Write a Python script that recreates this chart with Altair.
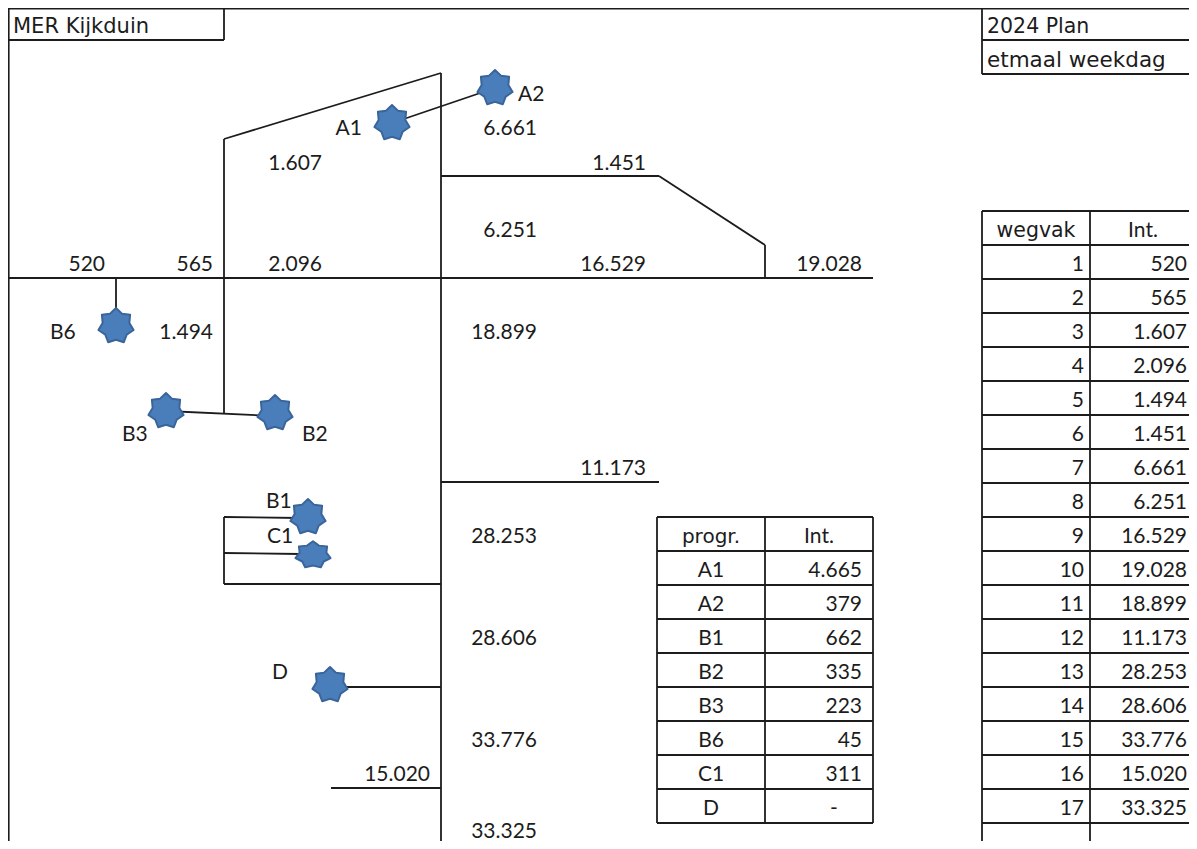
import math
import altair as alt
import pandas as pd

# Spreadsheet-diagram contents
road_ids = list(range(1, 18))
road_vals = ["520", "565", "1.607", "2.096", "1.494", "1.451", "6.661", "6.251", "16.529",
             "19.028", "18.899", "11.173", "28.253", "28.606", "33.776", "15.020", "33.325"]
prog_names = ["A1", "A2", "B1", "B2", "B3", "B6", "C1", "D"]
prog_vals = ["4.665", "379", "662", "335", "223", "45", "311"]

# Diagram labels: text, x, baseline y
right_labels = [
    ("520", 105, 271), ("565", 213, 271), ("2.096", 322, 271), ("1.607", 322, 170),
    ("6.661", 537, 135), ("1.451", 646, 170), ("6.251", 537, 237), ("16.529", 646, 271),
    ("19.028", 862, 271), ("1.494", 213, 339), ("18.899", 537, 339), ("11.173", 646, 475),
    ("28.253", 537, 543), ("28.606", 537, 645), ("33.776", 537, 747), ("15.020", 430, 781),
    ("33.325", 537, 838), ("A1", 362, 135),
]
left_labels = [
    ("A2", 518, 101), ("B6", 50, 339), ("B3", 122, 441), ("B2", 302, 441),
    ("B1", 266, 508), ("C1", 267, 543), ("D", 272, 679),
]
center_labels = [("Int.", 1143, 237), ("Int.", 819, 543), ("-", 834, 815)]
# Wider header texts: text, x, baseline y, font size
head_left = [("MER Kijkduin", 13, 33, 21), ("2024 Plan", 987, 33, 20.5), ("etmaal weekdag", 987, 67, 21.5)]
head_center = [("wegvak", 1036, 237, 20.5), ("progr.", 711, 543, 20)]

# Line segments: x1, y1, x2, y2
segments = [
    (8, 8.5, 1189, 8.5), (8.7, 8, 8.7, 841), (224, 8, 224, 40), (8, 40, 224, 40),
    (982, 8, 982, 74), (982, 40, 1189, 40), (982, 74, 1189, 74),
    (8, 278, 873, 278), (116, 278, 116, 312), (224, 139, 224, 414),
    (224, 139, 441, 73), (441, 73, 441, 841), (441, 176, 659, 176),
    (659, 176, 765, 245), (765, 245, 765, 278), (441, 482, 659, 482),
    (224, 517, 224, 584), (224, 584, 441, 584), (224, 517, 300, 518), (224, 553, 300, 554),
    (345, 687, 441, 687), (331, 788, 441, 788), (392, 123, 495, 88), (166, 411, 275, 416),
    (982, 211, 1189, 211), (982, 211, 982, 841), (1090, 211, 1090, 841),
    (657, 517, 873, 517), (657, 517, 657, 823), (765, 517, 765, 823), (873, 517, 873, 823),
]
segments += [(982, 245 + 34 * i, 1189, 245 + 34 * i) for i in range(18)]
segments += [(657, 551 + 34 * i, 873, 551 + 34 * i) for i in range(9)]

stars = [("A1", 392, 123), ("A2", 495, 88), ("B6", 116, 326), ("B3", 166, 411),
         ("B2", 275, 413), ("B1", 308, 517), ("D", 330, 685)]
flat_stars = [("C1", 313, 555)]

for i, v in enumerate(road_vals):
    right_labels.append((str(road_ids[i]), 1084, 271 + 34 * i))
    right_labels.append((v, 1187, 271 + 34 * i))
for i, n in enumerate(prog_names):
    center_labels.append((n, 711, 577 + 34 * i))
for i, v in enumerate(prog_vals):
    right_labels.append((v, 862, 577 + 34 * i))


def star_path(n=7, inner=0.76, sy=1.0):
    pts = []
    for k in range(2 * n):
        r = 1 if k % 2 == 0 else inner
        a = math.pi * k / n
        pts.append(f"{r * math.sin(a):.3f},{-r * sy * math.cos(a):.3f}")
    return "M" + "L".join(pts) + "Z"


X = alt.X("x:Q", scale=alt.Scale(domain=[8, 1189]), axis=None)
Y = alt.Y("y:Q", scale=alt.Scale(domain=[8, 841], reverse=True), axis=None)


def seg_layer(rows, color, width):
    df = pd.DataFrame(rows, columns=["x", "y", "x2", "y2"])
    return alt.Chart(df).mark_rule(color=color, strokeWidth=width).encode(
        x=X, y=Y, x2="x2:Q", y2="y2:Q")


def text_layer(rows, align):
    df = pd.DataFrame(rows, columns=["t", "x", "y"])
    return alt.Chart(df).mark_text(
        align=align, baseline="alphabetic", font="Lato", fontSize=21, color="#1c1c1c"
    ).encode(x=X, y=Y, text="t:N")


def head_layer(rows, align):
    df = pd.DataFrame(rows, columns=["t", "x", "y", "s"])
    return alt.Chart(df).mark_text(
        align=align, baseline="alphabetic", font="DejaVu Sans", color="#1c1c1c"
    ).encode(x=X, y=Y, text="t:N", size=alt.Size("s:Q", scale=None, legend=None))


def star_layer(rows, shape):
    df = pd.DataFrame(rows, columns=["n", "x", "y"])
    return alt.Chart(df).mark_point(
        shape=shape, size=1300, filled=True, fill="#4a7ebb", stroke="#3a659a",
        strokeWidth=2, strokeJoin="round", opacity=1
    ).encode(x=X, y=Y)


chart = alt.layer(
    seg_layer(segments, "#1c1c1c", 1.8),
    star_layer(stars, star_path()),
    star_layer(flat_stars, star_path(sy=0.76)),
    text_layer(right_labels, "right"),
    text_layer(left_labels, "left"),
    text_layer(center_labels, "center"),
    head_layer(head_left, "left"),
    head_layer(head_center, "center"),
).properties(width=1181, height=833, padding=0, background="white",
             autosize=alt.AutoSizeParams(type="none")
).configure_view(stroke=None)

chart.save("out.html", embed_options={"renderer": "svg", "actions": False})
